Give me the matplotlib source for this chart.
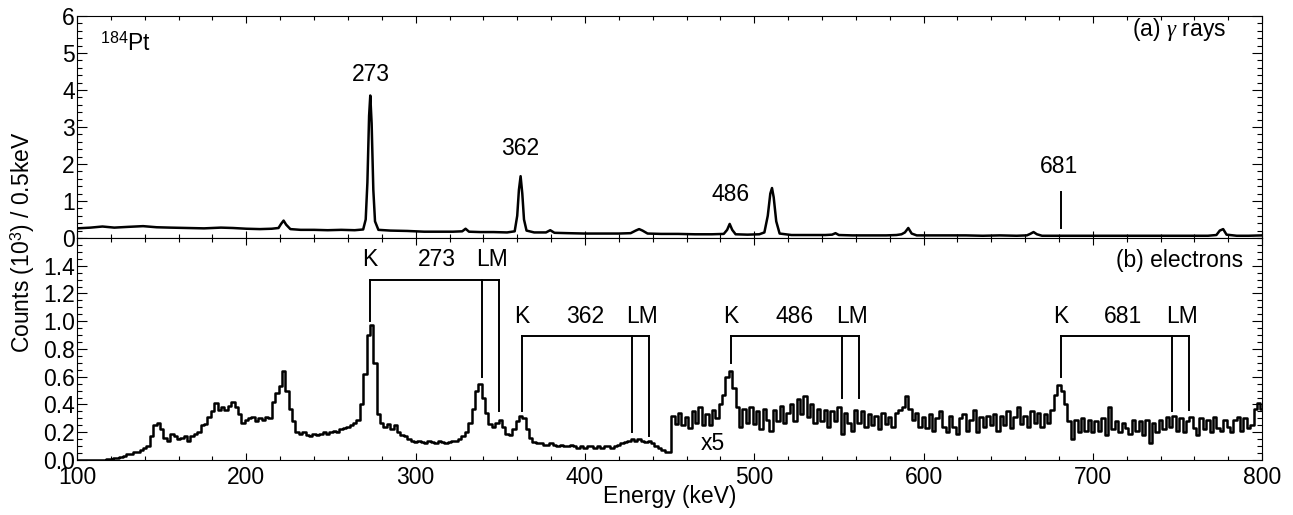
import numpy as np
import matplotlib.pyplot as plt
from matplotlib.ticker import MultipleLocator

plt.rcParams['font.family'] = ['Liberation Sans', 'DejaVu Sans']
plt.rcParams['mathtext.fontset'] = 'custom'
plt.rcParams['mathtext.rm'] = 'Liberation Sans'
plt.rcParams['mathtext.it'] = 'Liberation Serif:italic'
plt.rcParams['font.size'] = 16.5

# (a) gamma-ray spectrum, counts in 10^3 per 0.5 keV
gamma_energy = [100, 108, 115, 122, 130, 139, 147, 155, 165, 175, 185, 192,
                200, 208, 215, 219, 220.5, 222, 223.5, 226, 232, 240, 248, 256,
                264, 269, 270.5, 271.5, 272.5, 273.2, 274, 275, 276, 278, 285, 295,
                305, 315, 322, 327.5, 329.5, 331.5, 338, 346, 354, 358.5, 360, 361,
                362, 363, 364, 365.5, 370, 377, 379.5, 382, 390, 400, 410, 420,
                427, 430, 432, 434, 437, 445, 455, 465, 475, 482, 484, 485.5,
                487, 489, 496, 503, 506, 508, 509.5, 510.5, 511.5, 513, 515, 522,
                532, 542, 546, 548, 550, 558, 568, 578, 584, 587, 589, 591,
                593, 596, 605, 615, 625, 635, 645, 655, 661, 663, 665, 667,
                670, 680, 690, 700, 710, 720, 730, 740, 750, 760, 768, 773,
                775, 777, 779, 785, 792, 800]
gamma_counts = [0.26, 0.28, 0.31, 0.28, 0.30, 0.32, 0.29, 0.28, 0.27, 0.26, 0.28, 0.27,
                0.25, 0.24, 0.25, 0.27, 0.38, 0.47, 0.36, 0.24, 0.22, 0.22, 0.21, 0.22,
                0.21, 0.23, 0.50, 1.50, 3.30, 3.85, 3.10, 1.30, 0.45, 0.22, 0.20, 0.19,
                0.17, 0.17, 0.17, 0.18, 0.25, 0.17, 0.16, 0.16, 0.15, 0.18, 0.60, 1.30,
                1.67, 1.20, 0.50, 0.20, 0.15, 0.15, 0.21, 0.14, 0.13, 0.12, 0.12, 0.12,
                0.13, 0.20, 0.24, 0.20, 0.12, 0.11, 0.11, 0.10, 0.10, 0.11, 0.22, 0.38,
                0.22, 0.10, 0.09, 0.10, 0.15, 0.60, 1.20, 1.35, 1.10, 0.45, 0.12, 0.08,
                0.08, 0.08, 0.09, 0.13, 0.08, 0.07, 0.07, 0.07, 0.08, 0.10, 0.15, 0.27,
                0.12, 0.07, 0.07, 0.07, 0.07, 0.06, 0.07, 0.06, 0.07, 0.11, 0.16, 0.10,
                0.06, 0.06, 0.06, 0.06, 0.06, 0.06, 0.06, 0.06, 0.06, 0.06, 0.06, 0.08,
                0.20, 0.24, 0.09, 0.06, 0.06, 0.07]

# (b) electron spectrum, 2 keV bins from 100 to 800 keV (above ~451 keV scaled x5)
electron_energy = np.arange(100, 801, 2)
electron_counts = [
    0, 0, 0, 0, 0, 0, 0, 0.002, 0.003, 0.005,                       # 100
    0.008, 0.012, 0.018, 0.022, 0.03, 0.04, 0.045, 0.055, 0.06, 0.075,  # 120
    0.09, 0.10, 0.17, 0.25, 0.27, 0.22, 0.16, 0.14, 0.19, 0.17,      # 140
    0.15, 0.16, 0.17, 0.14, 0.17, 0.19, 0.20, 0.25, 0.26, 0.31,      # 160
    0.35, 0.41, 0.36, 0.38, 0.36, 0.39, 0.42, 0.38, 0.33, 0.27,      # 180
    0.29, 0.30, 0.31, 0.28, 0.30, 0.29, 0.31, 0.30, 0.42, 0.48,      # 200
    0.53, 0.64, 0.50, 0.37, 0.28, 0.20, 0.19, 0.20, 0.18, 0.17,      # 220
    0.19, 0.18, 0.19, 0.20, 0.19, 0.20, 0.21, 0.20, 0.22, 0.23,      # 240
    0.24, 0.25, 0.27, 0.29, 0.40, 0.62, 0.90, 0.97, 0.70, 0.33,      # 260
    0.27, 0.24, 0.26, 0.22, 0.25, 0.20, 0.18, 0.17, 0.15, 0.14,      # 280
    0.13, 0.14, 0.13, 0.12, 0.14, 0.13, 0.12, 0.14, 0.13, 0.12,      # 300
    0.13, 0.14, 0.14, 0.15, 0.17, 0.20, 0.27, 0.37, 0.50, 0.55,      # 320
    0.45, 0.34, 0.26, 0.24, 0.27, 0.29, 0.24, 0.19, 0.18, 0.22,      # 340
    0.28, 0.32, 0.30, 0.22, 0.16, 0.13, 0.12, 0.12, 0.11, 0.11,      # 360
    0.12, 0.11, 0.10, 0.11, 0.10, 0.10, 0.11, 0.10, 0.09, 0.10,      # 380
    0.09, 0.10, 0.10, 0.09, 0.10, 0.09, 0.10, 0.10, 0.09, 0.10,      # 400
    0.11, 0.12, 0.13, 0.14, 0.15, 0.14, 0.15, 0.14, 0.13, 0.14,      # 420
    0.12, 0.10, 0.09, 0.07, 0.06, 0.06, 0.32, 0.26, 0.34, 0.25,      # 440
    0.31, 0.23, 0.35, 0.27, 0.38, 0.25, 0.33, 0.25, 0.36, 0.30,      # 460
    0.40, 0.47, 0.60, 0.64, 0.52, 0.38, 0.24, 0.37, 0.27, 0.38,      # 480
    0.26, 0.35, 0.22, 0.37, 0.29, 0.21, 0.36, 0.28, 0.39, 0.27,      # 500
    0.34, 0.40, 0.28, 0.44, 0.33, 0.46, 0.31, 0.40, 0.27, 0.37,      # 520
    0.28, 0.36, 0.24, 0.35, 0.28, 0.38, 0.19, 0.34, 0.27, 0.21,      # 540
    0.36, 0.27, 0.35, 0.24, 0.33, 0.25, 0.32, 0.22, 0.34, 0.26,      # 560
    0.31, 0.24, 0.34, 0.36, 0.38, 0.46, 0.37, 0.29, 0.34, 0.24,      # 580
    0.31, 0.23, 0.33, 0.21, 0.30, 0.35, 0.24, 0.20, 0.32, 0.24,      # 600
    0.19, 0.30, 0.33, 0.21, 0.29, 0.36, 0.20, 0.31, 0.24, 0.32,      # 620
    0.25, 0.33, 0.21, 0.32, 0.25, 0.35, 0.23, 0.31, 0.38, 0.26,      # 640
    0.32, 0.24, 0.35, 0.27, 0.34, 0.24, 0.33, 0.27, 0.36, 0.47,      # 660
    0.54, 0.50, 0.40, 0.28, 0.15, 0.29, 0.20, 0.30, 0.21, 0.29,      # 680
    0.20, 0.28, 0.21, 0.30, 0.18, 0.38, 0.22, 0.28, 0.20, 0.27,      # 700
    0.23, 0.19, 0.29, 0.21, 0.28, 0.18, 0.29, 0.12, 0.27, 0.20,      # 720
    0.29, 0.22, 0.31, 0.24, 0.32, 0.21, 0.30, 0.20, 0.28, 0.31,      # 740
    0.23, 0.18, 0.30, 0.22, 0.29, 0.20, 0.31, 0.23, 0.21, 0.29,      # 760
    0.24, 0.20, 0.29, 0.31, 0.21, 0.30, 0.23, 0.25, 0.37, 0.41,      # 780
    0.37]                                                             # 800

# transition labels and conversion-line markers
gamma_labels = ["273", "362", "486", "681"]
gamma_label_x = [273.3, 362, 486.3, 680]
gamma_label_y = [4.24, 2.24, 1.0, 1.75]

groups = ["273", "362", "486", "681"]
k_energy = [273, 362.6, 486.3, 681]
l_energy = [339, 428, 552, 747]
m_energy = [349.3, 438, 562, 757]
bracket_y = [1.30, 0.895, 0.895, 0.895]
k_bottom = [1.0, 0.35, 0.70, 0.60]
l_bottom = [0.60, 0.20, 0.45, 0.35]
m_bottom = [0.35, 0.17, 0.45, 0.36]
group_label_x = [312.6, 400, 523.7, 718]
lm_label_x = [345, 434, 557.6, 752.5]

fig = plt.figure(figsize=(12.93, 5.15), dpi=100)
ax1 = fig.add_axes([0.0596, 0.5379, 0.9165, 0.4311])
ax2 = fig.add_axes([0.0596, 0.1068, 0.9165, 0.4311], sharex=ax1)

lw = 1.8
ax1.plot(gamma_energy, gamma_counts, color="black", lw=lw)
ax2.plot(electron_energy, electron_counts, color="black", lw=lw, drawstyle="steps-mid")

ax1.set_xlim(100, 800)
ax1.set_ylim(0, 6)
ax2.set_ylim(0, 1.6)

for ax in (ax1, ax2):
    ax.xaxis.set_major_locator(MultipleLocator(100))
    ax.xaxis.set_minor_locator(MultipleLocator(20))
    ax.tick_params(which="both", direction="in", top=True, right=True, width=0.8)
    ax.tick_params(axis="x", which="major", length=5)
    ax.tick_params(axis="x", which="minor", length=2.6)
    ax.tick_params(axis="y", which="major", length=7, pad=1.5)
    ax.tick_params(axis="y", which="minor", length=3.5)
    for s in ax.spines.values():
        s.set_linewidth(0.8)

ax1.yaxis.set_major_locator(MultipleLocator(1))
ax1.yaxis.set_minor_locator(MultipleLocator(0.2))
ax1.tick_params(axis="x", labelbottom=False)
ax2.set_yticks(np.arange(0, 1.41, 0.2))
ax2.yaxis.set_minor_locator(MultipleLocator(0.05))
ax2.set_yticklabels([f"{v:.1f}" for v in np.arange(0, 1.41, 0.2)])
ax2.tick_params(axis="x", pad=4)

# panel (a) annotations
ax1.text(113.6, 5.06, r"$^{184}$Pt", ha="left", va="baseline")
ax1.text(778.7, 5.45, r"(a) $\gamma$ rays", ha="right", va="baseline")
for lab, x, y in zip(gamma_labels, gamma_label_x, gamma_label_y):
    ax1.text(x, y, lab, ha="center", va="baseline")
ax1.plot([681, 681], [0.26, 1.25], color="black", lw=1.4)

# panel (b) annotations
ax2.text(788.7, 1.39, "(b) electrons", ha="right", va="baseline")
ax2.text(475.4, 0.075, "x5", ha="center", va="baseline")
for i, g in enumerate(groups):
    by = bracket_y[i]
    ax2.plot([k_energy[i], m_energy[i]], [by, by], color="black", lw=1.4)
    ax2.plot([k_energy[i], k_energy[i]], [k_bottom[i], by], color="black", lw=1.4)
    ax2.plot([l_energy[i], l_energy[i]], [l_bottom[i], by], color="black", lw=1.4)
    ax2.plot([m_energy[i], m_energy[i]], [m_bottom[i], by], color="black", lw=1.4)
    ty = by + 0.095
    ax2.text(k_energy[i], ty, "K", ha="center", va="baseline")
    ax2.text(group_label_x[i], ty, g, ha="center", va="baseline")
    ax2.text(lm_label_x[i], ty, "LM", ha="center", va="baseline")

fig.text(0.0178, 0.53, r"Counts (10$^3$) / 0.5keV", rotation=90, ha="center", va="center")
fig.text(0.518, 0.035, "Energy (keV)", ha="center", va="center")

fig.savefig("out.png", dpi=100)
